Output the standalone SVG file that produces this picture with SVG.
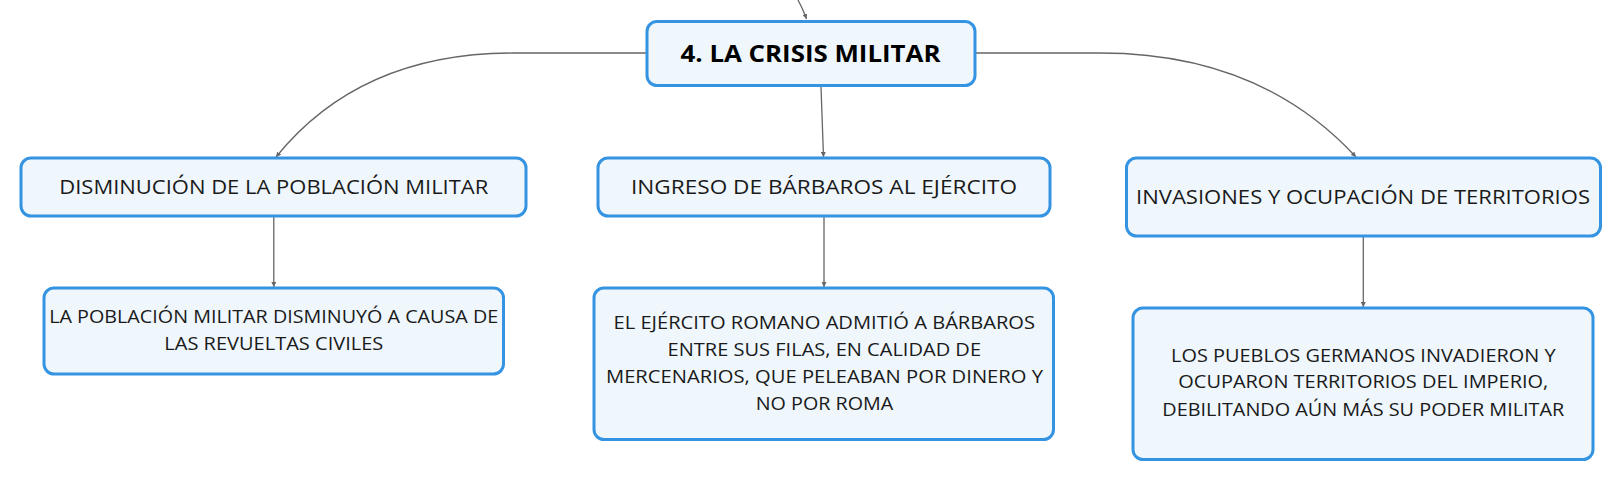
<svg xmlns="http://www.w3.org/2000/svg" width="1622" height="481" viewBox="0 0 1622 481">
<style>
.box{fill:#eff7fd;stroke:#3494e2;stroke-width:3}
.t{font-family:"Open Sans","Liberation Sans",sans-serif;fill:#1a1a1a;text-anchor:middle}
.n{font-size:19.5px}
.d{font-size:17.5px}
.title{font-size:23px;font-weight:bold;fill:#000}
.c{fill:none;stroke:#666;stroke-width:1.3}
</style>
<defs>
<marker id="ar" viewBox="0 0 6 6" refX="6" refY="3" markerWidth="5" markerHeight="5" markerUnits="userSpaceOnUse" orient="auto">
<path d="M0,0 L6,3 L0,6 z" fill="#666"/>
</marker>
</defs>
<g id="connectors">
<path class="c" d="M798,0 Q803,9 806.5,19" marker-end="url(#ar)"/>
<path class="c" d="M646,53 L513,53 Q360,53 276,157" marker-end="url(#ar)"/>
<path class="c" d="M821,87 L823.5,157" marker-end="url(#ar)"/>
<path class="c" d="M975,53 L1100,53 Q1260,53 1356,157" marker-end="url(#ar)"/>
<path class="c" d="M273.8,217 L273.8,287" marker-end="url(#ar)"/>
<path class="c" d="M824,217 L824,287" marker-end="url(#ar)"/>
<path class="c" d="M1363.3,237 L1363.3,307" marker-end="url(#ar)"/>
</g>
<g id="node-root">
<rect class="box" x="647" y="21.5" width="328" height="64" rx="10"/>
<text class="t title" x="810.5" y="62" textLength="260" lengthAdjust="spacingAndGlyphs">4. LA CRISIS MILITAR</text>
</g>
<g id="node-disminucion">
<rect class="box" x="21" y="158" width="505" height="58" rx="10"/>
<text class="t n" x="273.8" y="194" textLength="429" lengthAdjust="spacingAndGlyphs">DISMINUCIÓN DE LA POBLACIÓN MILITAR</text>
</g>
<g id="node-ingreso">
<rect class="box" x="598" y="158" width="452" height="58" rx="10"/>
<text class="t n" x="824" y="194" textLength="386" lengthAdjust="spacingAndGlyphs">INGRESO DE BÁRBAROS AL EJÉRCITO</text>
</g>
<g id="node-invasiones">
<rect class="box" x="1126.5" y="158" width="474" height="78" rx="10"/>
<text class="t n" x="1363" y="203.5" textLength="454" lengthAdjust="spacingAndGlyphs">INVASIONES Y OCUPACIÓN DE TERRITORIOS</text>
</g>
<g id="node-disminucion-detalle">
<rect class="box" x="44" y="288" width="459.5" height="86" rx="10"/>
<text class="t d" x="273.7" y="322.7" textLength="449" lengthAdjust="spacingAndGlyphs">LA POBLACIÓN MILITAR DISMINUYÓ A CAUSA DE</text>
<text class="t d" x="273.8" y="350" textLength="219" lengthAdjust="spacingAndGlyphs">LAS REVUELTAS CIVILES</text>
</g>
<g id="node-ingreso-detalle">
<rect class="box" x="594" y="288" width="459.5" height="151.5" rx="10"/>
<text class="t d" x="824.3" y="329.3" textLength="421.5" lengthAdjust="spacingAndGlyphs">EL EJÉRCITO ROMANO ADMITIÓ A BÁRBAROS</text>
<text class="t d" x="824.3" y="356" textLength="313.5" lengthAdjust="spacingAndGlyphs">ENTRE SUS FILAS, EN CALIDAD DE</text>
<text class="t d" x="824.5" y="383.3" textLength="437" lengthAdjust="spacingAndGlyphs">MERCENARIOS, QUE PELEABAN POR DINERO Y</text>
<text class="t d" x="824.5" y="410" textLength="137.5" lengthAdjust="spacingAndGlyphs">NO POR ROMA</text>
</g>
<g id="node-invasiones-detalle">
<rect class="box" x="1133" y="308" width="460" height="151.5" rx="10"/>
<text class="t d" x="1363.3" y="361.7" textLength="384.5" lengthAdjust="spacingAndGlyphs">LOS PUEBLOS GERMANOS INVADIERON Y</text>
<text class="t d" x="1363.3" y="388.3" textLength="370" lengthAdjust="spacingAndGlyphs">OCUPARON TERRITORIOS DEL IMPERIO,</text>
<text class="t d" x="1363.3" y="416" textLength="402" lengthAdjust="spacingAndGlyphs">DEBILITANDO AÚN MÁS SU PODER MILITAR</text>
</g>
</svg>
